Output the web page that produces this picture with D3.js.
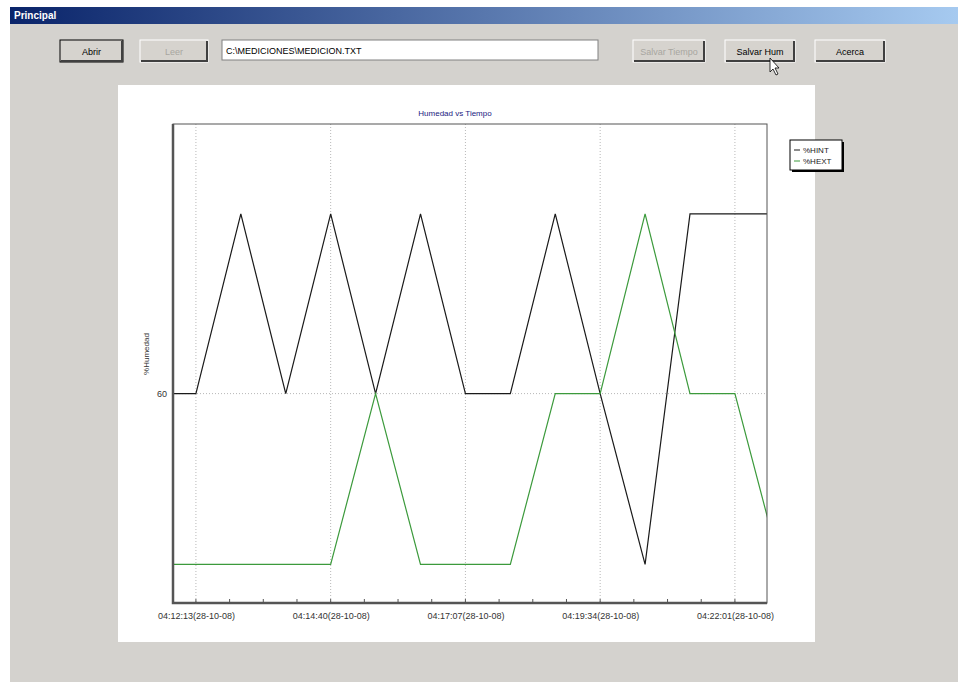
<!DOCTYPE html>
<html lang="es">
<head>
    <meta charset="UTF-8">
    <title>Principal</title>
    <script src="https://cdn.jsdelivr.net/npm/d3@7"></script>
    <style>
        body { margin: 0; background: #fff; }
        text { font-family: "Liberation Sans", Arial, sans-serif; }
    </style>
</head>
<body>
    <svg width="958" height="682" id="mainsvg"></svg>
    <script>
        // datos
        const fecha = '(28-10-08)';
        const horas = ['04:11:24', '04:12:13', '04:13:02', '04:13:51', '04:14:40', '04:15:29', '04:16:18', '04:17:07',
            '04:17:56', '04:18:45', '04:19:34', '04:20:23', '04:21:12', '04:22:01', '04:22:50'];
        const hint = [60, 60, 80, 60, 80, 60, 80, 60, 60, 80, 60, 41, 80, 80, 80];
        const hext = [41, 41, 41, 41, 41, 60, 41, 41, 41, 60, 60, 80, 60, 60, 41];
        const marcasX = ['04:12:13', '04:14:40', '04:17:07', '04:19:34', '04:22:01'];
        const marcasY = [60];
        const series = [
            { nombre: '%HINT', valores: hint, color: '#1a1a1a' },
            { nombre: '%HEXT', valores: hext, color: '#3c9a3c' }
        ];

        const parse = d3.timeParse('%H:%M:%S');
        const svg = d3.select('#mainsvg');

        // ventana
        const defs = svg.append('defs');
        const grad = defs.append('linearGradient').attr('id', 'barra');
        grad.append('stop').attr('offset', '0%').attr('stop-color', '#0a246a');
        grad.append('stop').attr('offset', '100%').attr('stop-color', '#a6caf0');
        svg.append('rect').attr('x', 10).attr('y', 7).attr('width', 948).attr('height', 675).attr('fill', '#d4d2ce');
        svg.append('rect').attr('x', 10).attr('y', 7).attr('width', 948).attr('height', 17).attr('fill', 'url(#barra)');
        svg.append('text').text('Principal').attr('x', 14).attr('y', 19)
            .attr('fill', '#fff').attr('font-size', 10).attr('font-weight', 'bold');

        function boton(x, w, label, activo, foco) {
            const b = svg.append('g').attr('transform', `translate(${x},40)`);
            b.append('rect').attr('width', w).attr('height', 22).attr('fill', '#d6d3ce')
                .attr('stroke', foco ? '#000' : '#fff').attr('stroke-width', 1);
            b.append('path').attr('d', `M${w - 1},1V21H1`).attr('fill', 'none').attr('stroke', '#404040').attr('stroke-width', 2);
            b.append('text').text(label).attr('x', w / 2).attr('y', 15).attr('text-anchor', 'middle')
                .attr('font-size', 9).attr('fill', activo ? '#000' : '#a8a6a0');
        }
        boton(60, 63, 'Abrir', true, true);
        boton(140, 68, 'Leer', false, false);
        boton(633, 72, 'Salvar Tiempo', false, false);
        boton(725, 70, 'Salvar Hum', true, false);
        boton(815, 70, 'Acerca', true, false);

        svg.append('rect').attr('x', 222).attr('y', 40).attr('width', 376).attr('height', 20)
            .attr('fill', '#fff').attr('stroke', '#808080');
        svg.append('text').text('C:\\MEDICIONES\\MEDICION.TXT').attr('x', 226).attr('y', 54).attr('font-size', 9);

        // cursor
        svg.append('path').attr('d', 'M770,58 l0,14 l3,-3 l3,6 l2,-1 l-3,-6 l4,0 z')
            .attr('fill', '#fff').attr('stroke', '#000').attr('stroke-width', 0.8);

        // panel del grafico
        svg.append('rect').attr('x', 118).attr('y', 85).attr('width', 697).attr('height', 557).attr('fill', '#fff');

        const margin = { top: 124, bottom: 603, left: 173, right: 767 };
        const x = d3.scaleTime()
            .domain([parse('04:11:48'), parse('04:22:36')])
            .range([margin.left, margin.right]);
        const y = d3.scaleLinear().domain([36.7, 90]).range([margin.bottom, margin.top]);

        defs.append('clipPath').attr('id', 'area').append('rect')
            .attr('x', margin.left).attr('y', margin.top)
            .attr('width', margin.right - margin.left).attr('height', margin.bottom - margin.top);

        // rejilla
        const majors = marcasX.map(parse);
        svg.append('g').selectAll('line').data(majors).enter().append('line')
            .attr('x1', d => x(d)).attr('x2', d => x(d))
            .attr('y1', margin.top).attr('y2', margin.bottom)
            .attr('stroke', '#b8b8b8').attr('stroke-dasharray', '1,2');
        svg.append('g').selectAll('line').data(marcasY).enter().append('line')
            .attr('x1', margin.left).attr('x2', margin.right)
            .attr('y1', d => y(d)).attr('y2', d => y(d))
            .attr('stroke', '#b8b8b8').attr('stroke-dasharray', '1,2');

        // lineas
        const line = d3.line().x(d => x(d.t)).y(d => y(d.v));
        svg.append('g').attr('clip-path', 'url(#area)')
            .selectAll('path').data(series).enter().append('path')
            .attr('d', s => line(horas.map((h, i) => ({ t: parse(h), v: s.valores[i] }))))
            .attr('fill', 'none').attr('stroke', s => s.color).attr('stroke-width', 1.2);

        // marco
        svg.append('rect').attr('x', margin.left).attr('y', margin.top)
            .attr('width', margin.right - margin.left).attr('height', margin.bottom - margin.top)
            .attr('fill', 'none').attr('stroke', '#555');
        svg.append('path').attr('d', `M${margin.left},${margin.top}V${margin.bottom}H${margin.right}`)
            .attr('fill', 'none').attr('stroke', '#555').attr('stroke-width', 2.5);

        // ejes
        const fmt = d3.timeFormat('%H:%M:%S');
        const step = (majors[1] - majors[0]) / 4;
        const d0 = +x.domain()[0], d1 = +x.domain()[1];
        const k0 = Math.ceil((d0 - majors[0]) / step), k1 = Math.floor((d1 - majors[0]) / step);
        const minors = d3.range(k0, k1 + 1).map(k => new Date(+majors[0] + k * step));
        const xAxis = svg.append('g').attr('transform', `translate(0,${margin.bottom})`)
            .call(d3.axisBottom(x).tickValues(majors).tickSize(0).tickPadding(10).tickFormat(d => fmt(d) + fecha));
        xAxis.select('.domain').remove();
        xAxis.selectAll('text').attr('font-size', 9).attr('fill', '#333')
            .style('font-family', '"Liberation Sans", Arial, sans-serif');
        svg.append('g').selectAll('line').data(minors).enter().append('line')
            .attr('x1', d => x(d)).attr('x2', d => x(d))
            .attr('y1', margin.bottom - 4).attr('y2', margin.bottom)
            .attr('stroke', '#555');

        const yAxis = svg.append('g').attr('transform', `translate(${margin.left},0)`)
            .call(d3.axisLeft(y).tickValues(marcasY).tickSize(0).tickPadding(6));
        yAxis.select('.domain').remove();
        yAxis.selectAll('text').attr('font-size', 9).attr('fill', '#333')
            .style('font-family', '"Liberation Sans", Arial, sans-serif');

        svg.append('text').text('%Humedad')
            .attr('transform', 'translate(149,354) rotate(-90)')
            .attr('text-anchor', 'middle').attr('font-size', 8).attr('fill', '#333');

        svg.append('text').text('Humedad vs Tiempo').attr('x', 455).attr('y', 116)
            .attr('text-anchor', 'middle').attr('font-size', 8).attr('fill', '#1a1a80');

        // leyenda
        const lg = svg.append('g').attr('transform', 'translate(790,140)');
        lg.append('rect').attr('x', 2).attr('y', 2).attr('width', 52).attr('height', 30).attr('fill', '#000');
        lg.append('rect').attr('width', 52).attr('height', 30).attr('fill', '#fff').attr('stroke', '#000');
        const items = lg.selectAll('g').data(series).enter().append('g')
            .attr('transform', (d, i) => `translate(4,${10 + i * 11})`);
        items.append('line').attr('x1', 0).attr('x2', 6).attr('y1', 0).attr('y2', 0)
            .attr('stroke', d => d.color);
        items.append('text').text(d => d.nombre).attr('x', 9).attr('y', 3).attr('font-size', 8).attr('fill', '#222');
    </script>
</body>
</html>
